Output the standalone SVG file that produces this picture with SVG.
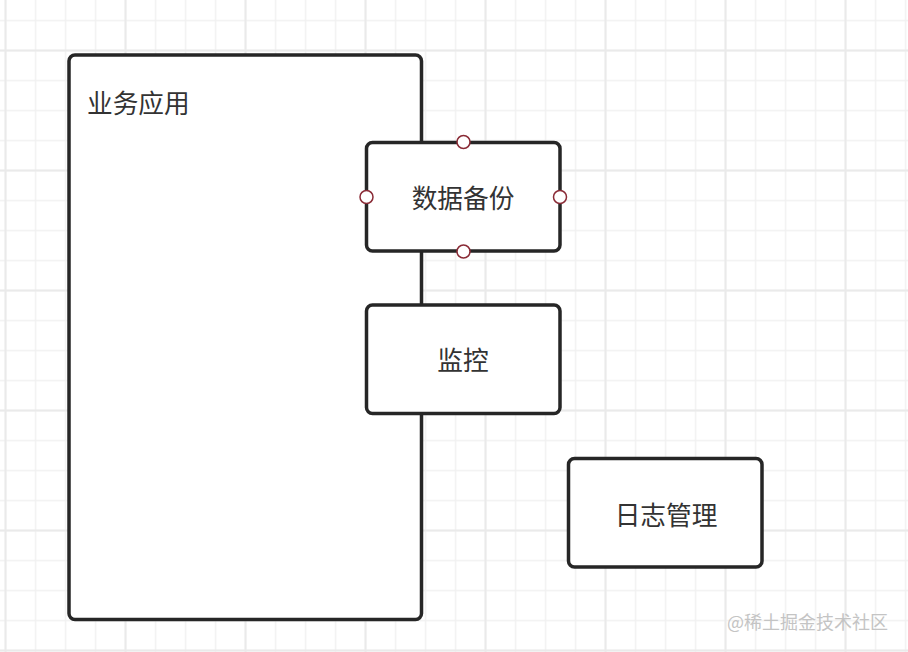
<svg xmlns="http://www.w3.org/2000/svg" width="908" height="652" viewBox="0 0 908 652">
  <style>
    .box { fill: #ffffff; stroke: #262626; stroke-width: 3.5; }
    .label { font-family: "Noto Sans CJK SC", "Noto Sans", sans-serif; font-size: 25.7px; fill: #333333; dominant-baseline: central; }
    .mid { text-anchor: middle; }
    .handle { fill: #ffffff; stroke: #8a2b36; stroke-width: 1.5; }
    .wm { font-family: "Noto Sans CJK SC", "Noto Sans", sans-serif; font-size: 18px; fill: #c4c4c4; dominant-baseline: central; }
  </style>
  <defs>
    <pattern id="minor" patternUnits="userSpaceOnUse" x="4.75" y="19.75" width="30" height="30">
      <rect x="0" y="0" width="30" height="1.5" fill="#f1f1f1"/>
      <rect x="0" y="0" width="1.5" height="30" fill="#f1f1f1"/>
    </pattern>
    <pattern id="major" patternUnits="userSpaceOnUse" x="4.5" y="49.5" width="120" height="120">
      <rect x="0" y="0" width="120" height="2" fill="#eaeaea"/>
      <rect x="0" y="0" width="2" height="120" fill="#eaeaea"/>
    </pattern>
  </defs>
  <rect x="0" y="0" width="908" height="652" fill="#ffffff"/>
  <rect x="0" y="0" width="908" height="652" fill="url(#minor)"/>
  <rect x="0" y="0" width="908" height="652" fill="url(#major)"/>

  <g id="connectors"/>

  <g id="node-business">
    <rect class="box" x="69" y="55" width="352.5" height="564.5" rx="6"/>
    <text class="label" x="87" y="101.5">业务应用</text>
  </g>

  <g id="node-backup">
    <rect class="box" x="366.5" y="142.5" width="193.5" height="108.5" rx="6"/>
    <text class="label mid" x="463" y="196.5">数据备份</text>
    <circle class="handle" cx="463.5" cy="142" r="6.5"/>
    <circle class="handle" cx="366.5" cy="197" r="6.5"/>
    <circle class="handle" cx="560" cy="197" r="6.5"/>
    <circle class="handle" cx="463.5" cy="251.5" r="6.5"/>
  </g>

  <g id="node-monitor">
    <rect class="box" x="366.5" y="305" width="193.5" height="108.5" rx="6"/>
    <text class="label mid" x="463" y="358.5">监控</text>
  </g>

  <g id="node-log">
    <rect class="box" x="568.5" y="458.5" width="193.5" height="108.5" rx="6"/>
    <text class="label mid" x="666" y="513.5">日志管理</text>
  </g>

  <text class="wm" x="727" y="621">@稀土掘金技术社区</text>
</svg>
